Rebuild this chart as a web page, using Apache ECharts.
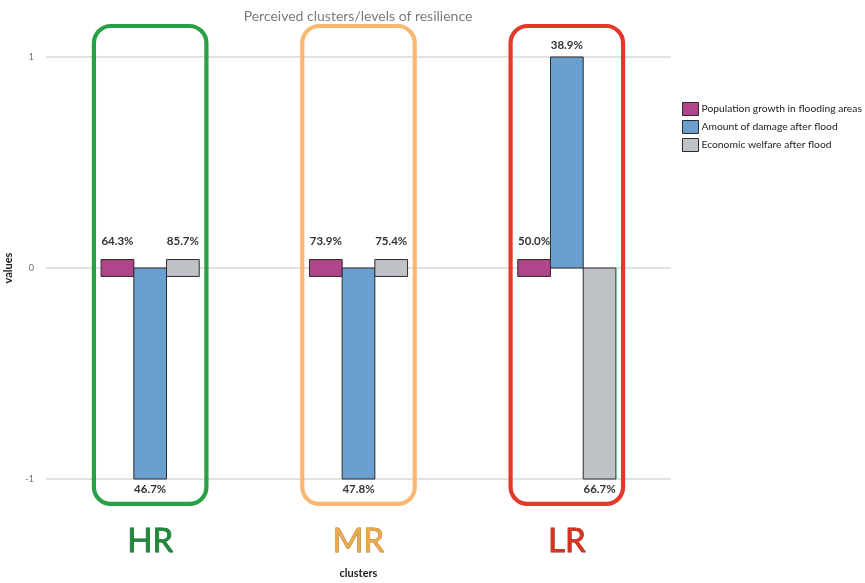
<!DOCTYPE html>
<html>
<head>
<meta charset="utf-8">
<script src="https://cdn.jsdelivr.net/npm/echarts@6/dist/echarts.min.js"></script>
<style>
  html, body { margin: 0; padding: 0; background: #fff; }
  #chart { width: 865px; height: 583px; }
</style>
</head>
<body>
<div id="chart"></div>
<script>
// Resilience clusters
const categories = ['HR', 'MR', 'LR'];

// Bar values per cluster
const populationGrowth = [0, 0, 0];
const damageAfterFlood = [-1, -1, 1];
const welfareAfterFlood = [0, 0, -1];

// Percentages printed next to each bar
const populationLabels = ['64.3%', '73.9%', '50.0%'];
const damageLabels = ['46.7%', '47.8%', '38.9%'];
const welfareLabels = ['85.7%', '75.4%', '66.7%'];

// Value-axis ticks
const yTicks = [-1, 0, 1];

const seriesNames = [
  'Population growth in flooding areas',
  'Amount of damage after flood',
  'Economic welfare after flood'
];
const seriesColors = ['#b0458a', '#6b9fcf', '#bfc3c7'];
const frameColors = ['#27a046', '#f8b872', '#e4382b'];
const clusterStyles = {
  HR: { color: '#1f8a3c', border: '#145c28' },
  MR: { color: '#eaa94f', border: '#b07a2c' },
  LR: { color: '#d6321f', border: '#9c2015' }
};

const FONT = 'Lato, "Open Sans", sans-serif';

// A zero value is shown as a small box straddling the baseline
const ZERO_HALF = 0.04;
const BAR_FRACTION = 0.157;

function barRenderer(offset, labels) {
  return function (params, api) {
    const cat = api.value(0);
    const v = api.value(1);
    const bandW = api.size([1, 0])[0];
    const barW = bandW * BAR_FRACTION;
    const xc = api.coord([cat, 0])[0] + offset * barW;
    let top, bottom, labelY;
    if (v === 0) {
      top = api.coord([cat, ZERO_HALF])[1];
      bottom = api.coord([cat, -ZERO_HALF])[1];
      labelY = top - 18;
    } else {
      const a = api.coord([cat, v])[1];
      const b = api.coord([cat, 0])[1];
      top = Math.min(a, b);
      bottom = Math.max(a, b);
      labelY = v > 0 ? top - 12 : bottom + 10;
    }
    return {
      type: 'group',
      children: [
        {
          type: 'rect',
          shape: { x: xc - barW / 2, y: top, width: barW, height: bottom - top },
          style: { fill: api.visual('color'), stroke: '#2b2b2b', lineWidth: 1 }
        },
        {
          type: 'text',
          x: xc,
          y: labelY,
          style: {
            text: labels[params.dataIndex],
            align: 'center',
            verticalAlign: 'middle',
            fill: '#333',
            font: 'bold 11.5px ' + FONT
          }
        }
      ]
    };
  };
}

function frameRenderer(params, api) {
  const cat = api.value(0);
  const bandW = api.size([1, 0])[0];
  const half = bandW * 0.27;
  const xc = api.coord([cat, 0])[0];
  const top = api.coord([cat, 1.147])[1];
  const bottom = api.coord([cat, -1.118])[1];
  return {
    type: 'rect',
    shape: { x: xc - half, y: top, width: half * 2, height: bottom - top, r: 17 },
    style: { fill: 'none', stroke: frameColors[params.dataIndex], lineWidth: 4.2 }
  };
}

const toData = arr => arr.map((v, i) => [i, v]);

const rich = {};
categories.forEach(c => {
  rich[c] = {
    fontSize: 33,
    fontFamily: FONT,
    color: clusterStyles[c].color,
    textBorderColor: clusterStyles[c].border,
    textBorderWidth: 0.8
  };
});

const chart = echarts.init(document.getElementById('chart'), null, { renderer: 'canvas' });
chart.setOption({
  animation: false,
  backgroundColor: '#fff',
  title: {
    text: 'Perceived clusters/levels of resilience',
    left: 353,
    top: 4,
    textAlign: 'center',
    textStyle: { fontFamily: FONT, fontSize: 14, fontWeight: 'normal', color: '#7a7a7a' }
  },
  legend: {
    orient: 'vertical',
    left: 677,
    top: 97,
    itemWidth: 16,
    itemHeight: 13,
    itemGap: 4,
    icon: 'rect',
    data: seriesNames,
    itemStyle: { borderColor: '#2b2b2b', borderWidth: 1 },
    textStyle: { fontFamily: FONT, fontSize: 10.3, color: '#222', padding: [0, 0, 0, -2] }
  },
  grid: { left: 46, right: 194, top: 57, bottom: 104, containLabel: false, outerBoundsMode: 'none' },
  xAxis: {
    type: 'category',
    data: categories,
    name: 'clusters',
    nameLocation: 'middle',
    nameGap: 89,
    nameTextStyle: { fontFamily: FONT, fontSize: 11, fontWeight: 'bold', color: '#222' },
    axisLine: { show: false },
    axisTick: { show: false },
    axisLabel: {
      margin: 46,
      formatter: v => '{' + v + '|' + v + '}',
      rich: rich
    }
  },
  yAxis: {
    type: 'value',
    min: yTicks[0],
    max: yTicks[yTicks.length - 1],
    interval: 1,
    name: 'values',
    nameLocation: 'middle',
    nameGap: 29,
    nameTextStyle: { fontFamily: FONT, fontSize: 11, fontWeight: 'bold', color: '#222' },
    axisLine: { show: false },
    axisTick: { show: false },
    axisLabel: { margin: 12, fontSize: 9.5, color: '#777', fontFamily: FONT },
    splitLine: { lineStyle: { color: '#d9d9d9', width: 1.5 } }
  },
  series: [
    {
      name: seriesNames[0],
      type: 'custom',
      renderItem: barRenderer(-1, populationLabels),
      itemStyle: { color: seriesColors[0], borderColor: '#2b2b2b' },
      data: toData(populationGrowth),
      clip: false,
      z: 3
    },
    {
      name: seriesNames[1],
      type: 'custom',
      renderItem: barRenderer(0, damageLabels),
      itemStyle: { color: seriesColors[1], borderColor: '#2b2b2b' },
      data: toData(damageAfterFlood),
      clip: false,
      z: 3
    },
    {
      name: seriesNames[2],
      type: 'custom',
      renderItem: barRenderer(1, welfareLabels),
      itemStyle: { color: seriesColors[2], borderColor: '#2b2b2b' },
      data: toData(welfareAfterFlood),
      clip: false,
      z: 3
    },
    {
      name: 'frames',
      type: 'custom',
      renderItem: frameRenderer,
      data: categories.map((c, i) => [i, 0]),
      clip: false,
      silent: true,
      z: 4
    }
  ]
});
</script>
</body>
</html>
